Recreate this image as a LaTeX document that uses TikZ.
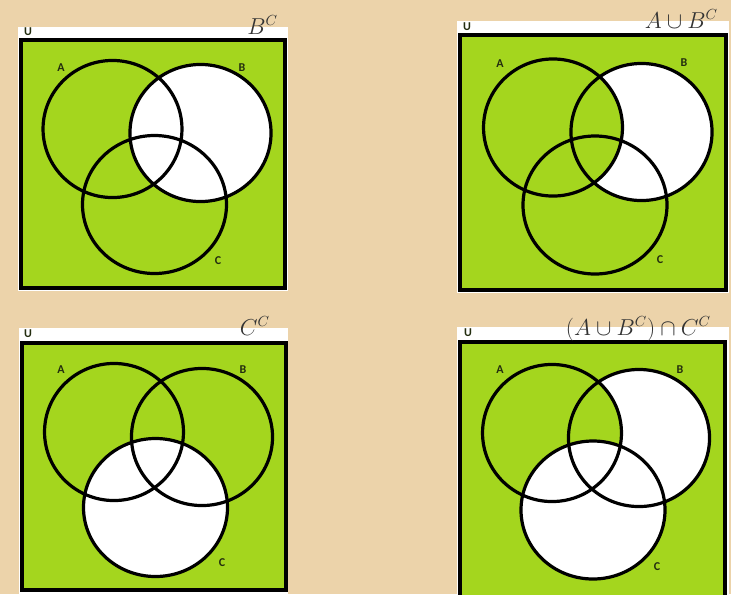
\documentclass[tikz,border=0pt]{standalone}
\usepackage{fontspec}
\newfontfamily\labfont{Carlito}
\definecolor{vgreen}{RGB}{164,214,30}
\definecolor{parch}{RGB}{236,211,170}
\definecolor{labink}{RGB}{35,45,15}
\begin{document}
\begin{tikzpicture}[x=0.75pt,y=-0.75pt,
  setlab/.style={font=\labfont\bfseries\fontsize{9}{9}\selectfont, text=labink, inner sep=0pt},
  ttl/.style={font=\fontsize{16}{16}\selectfont, text=black!80, anchor=base east, inner sep=0pt},
  ring/.style={draw=black, line width=2.4pt},
  frame/.style={draw=black, line width=2.4pt, fill=vgreen},
  panel/.style={fill=white},
  ra/.style={x radius=52.1pt, y radius=51.4pt},
  rb/.style={x radius=52.9pt, y radius=51.4pt},
  rc/.style={x radius=54pt, y radius=51.75pt}]
\fill[parch] (0,0) rectangle (731,594);
\useasboundingbox (0,0) rectangle (731,594);

% ---------- top left: B^C ----------
\fill[panel] (18,27) rectangle (288,291);
\draw[frame] (21,40) rectangle (285,288);
\fill[white] (200.5,133) ellipse [rb];
\draw[ring] (112.5,129) ellipse [ra];
\draw[ring] (200.5,133) ellipse [rb];
\draw[ring] (154.5,204.5) ellipse [rc];
\node[setlab] (u1) at (28,32) {U};
\node[setlab] (a1) at (61,68) {A};
\node[setlab] (b1) at (242,68) {B};
\node[setlab] (c1) at (218,261) {C};
\node[ttl] (t1) at (278,34) {$B^{C}$};

% ---------- top right: A u B^C ----------
\fill[panel] (457,21) rectangle (729,293);
\draw[frame] (460,35) rectangle (726,290);
\fill[white] (641.5,132) ellipse [rb];
\fill[vgreen] (553,127.5) ellipse [ra];
\draw[ring] (553,127.5) ellipse [ra];
\draw[ring] (641.5,132) ellipse [rb];
\draw[ring] (595,205) ellipse [rc];
\node[setlab] (u2) at (467,27) {U};
\node[setlab] (a2) at (500,64) {A};
\node[setlab] (b2) at (684,63) {B};
\node[setlab] (c2) at (660,260) {C};
\node[ttl] (t2) at (718,28) {$A\cup B^{C}$};

% ---------- bottom left: C^C ----------
\fill[panel] (19,328) rectangle (288,594);
\draw[frame] (22,343) rectangle (286,590);
\fill[white] (155.5,507.5) ellipse [rc];
\draw[ring] (114,432) ellipse [ra];
\draw[ring] (202,437) ellipse [rb];
\draw[ring] (155.5,507.5) ellipse [rc];
\node[setlab] (u3) at (28,334) {U};
\node[setlab] (a3) at (61,370) {A};
\node[setlab] (b3) at (243,370) {B};
\node[setlab] (c3) at (222,563) {C};
\node[ttl] (t3) at (270,335) {$C^{C}$};

% ---------- bottom right: (A u B^C) n C^C ----------
\fill[panel] (457,327) rectangle (729,594);
\draw[frame] (460,342) rectangle (725,598);
\fill[white] (639,438) ellipse [rb];
\fill[vgreen] (552,433) ellipse [ra];
\fill[white] (593,510) ellipse [rc];
\draw[ring] (552,433) ellipse [ra];
\draw[ring] (639,438) ellipse [rb];
\draw[ring] (593,510) ellipse [rc];
\node[setlab] (u4) at (468,333) {U};
\node[setlab] (a4) at (500,370) {A};
\node[setlab] (b4) at (680,370) {B};
\node[setlab] (c4) at (657,567) {C};
\node[ttl] (t4) at (711,335) {$(A\cup B^{C})\cap C^{C}$};
\end{tikzpicture}
\end{document}
